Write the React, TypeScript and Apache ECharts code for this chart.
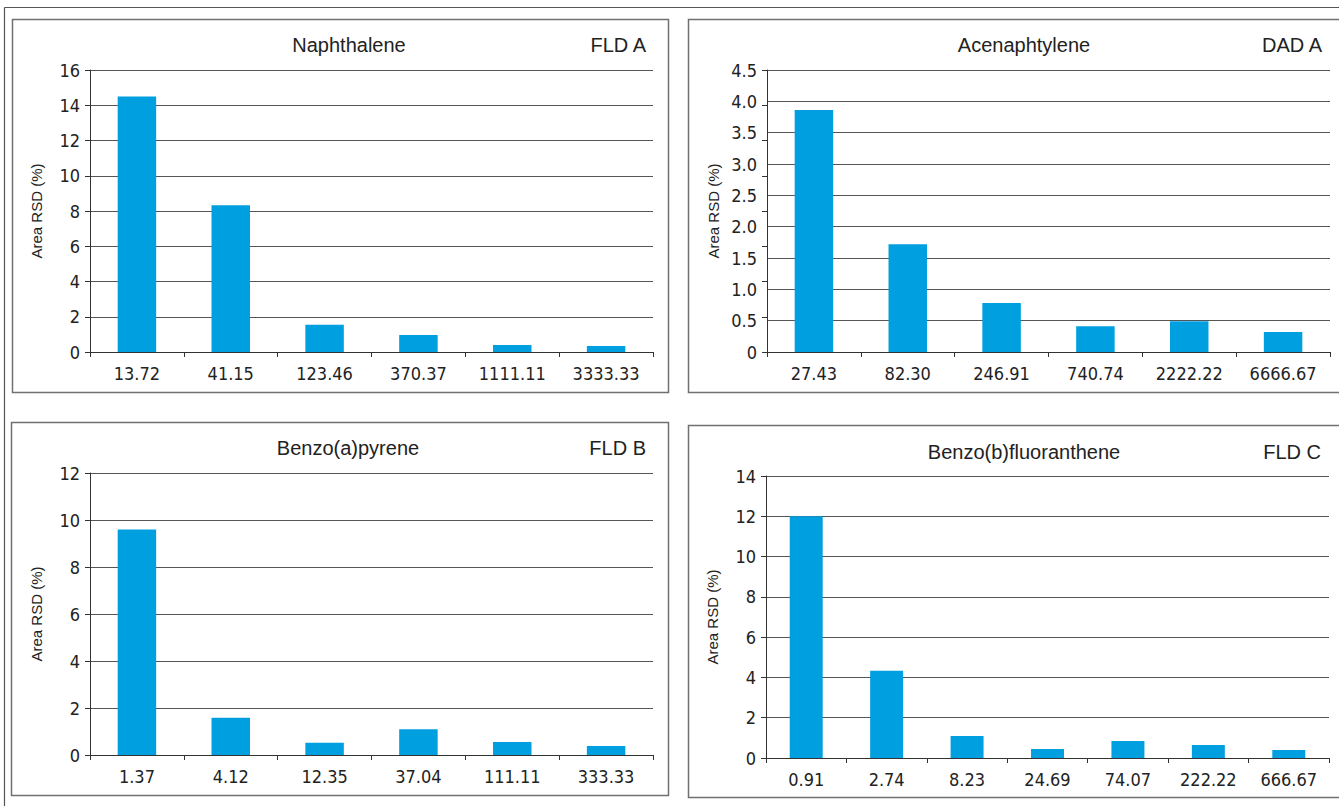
import React, { useEffect, useRef } from "react";
import * as echarts from "echarts";

// ---- Data ----
const naphCats = ["13.72", "41.15", "123.46", "370.37", "1111.11", "3333.33"];
const naphVals = [14.5, 8.33, 1.54, 0.96, 0.4, 0.34];

const acenCats = ["27.43", "82.30", "246.91", "740.74", "2222.22", "6666.67"];
const acenVals = [3.86, 1.72, 0.78, 0.41, 0.49, 0.32];

const bapCats = ["1.37", "4.12", "12.35", "37.04", "111.11", "333.33"];
const bapVals = [9.6, 1.58, 0.52, 1.1, 0.55, 0.38];

const bbfCats = ["0.91", "2.74", "8.23", "24.69", "74.07", "222.22", "666.67"];
const bbfVals = [12.0, 4.33, 1.09, 0.45, 0.84, 0.65, 0.4];

const titles = ["Naphthalene", "Acenaphtylene", "Benzo(a)pyrene", "Benzo(b)fluoranthene"];
const detectors = ["FLD A", "DAD A", "FLD B", "FLD C"];
const yMax = [16, 4.5, 12, 14];
const yStep = [2, 0.5, 2, 2];
const yLabel = "Area RSD (%)";

// ---- Layout ----
const panels = [
  { grid: { left: 90, top: 70, width: 563, height: 282 }, box: { x: 12, y: 19, w: 656, h: 373 }, tx: 349, ty: 45, dx: 646 },
  { grid: { left: 767, top: 70, width: 563, height: 282 }, box: { x: 688, y: 19, w: 700, h: 373 }, tx: 1024, ty: 45, dx: 1322 },
  { grid: { left: 90, top: 473, width: 563, height: 282 }, box: { x: 11, y: 422, w: 657, h: 373 }, tx: 348, ty: 448, dx: 646 },
  { grid: { left: 766, top: 476, width: 563, height: 282 }, box: { x: 688, y: 425, w: 700, h: 372 }, tx: 1024, ty: 452, dx: 1321 },
];

const FONT = '"Liberation Sans", Arial, sans-serif';
const NARROW = '"Liberation Sans Narrow", "DejaVu Sans Condensed", sans-serif';
const BAR = "#009fe0";
const TXT = "#222";

export default function App() {
  const ref = useRef<HTMLDivElement>(null);
  useEffect(() => {
    if (!ref.current) return;
    const chart = echarts.init(ref.current, undefined, { renderer: "svg" });
    const cats = [naphCats, acenCats, bapCats, bbfCats];
    const vals = [naphVals, acenVals, bapVals, bbfVals];

    const grids = panels.map((p) => ({ ...p.grid, containLabel: false }));
    const xAxes = panels.map((_, i) => ({
      type: "category",
      gridIndex: i,
      data: cats[i],
      boundaryGap: true,
      axisLine: { show: true, lineStyle: { color: "#333", width: 1 } },
      axisTick: { show: true, length: 5, lineStyle: { color: "#333" } },
      axisLabel: { color: TXT, fontFamily: NARROW, fontSize: 18, margin: 12 },
      splitLine: { show: false },
    }));
    const yAxes: any[] = panels.map((_, i) => ({
      type: "value",
      gridIndex: i,
      min: 0,
      max: yMax[i],
      interval: yStep[i],
      name: yLabel,
      nameLocation: "middle",
      nameGap: 46,
      nameTextStyle: { color: TXT, fontFamily: FONT, fontSize: 15 },
      axisLine: { show: true, lineStyle: { color: "#333", width: 1 } },
      axisTick: { show: i !== 1, length: 5, lineStyle: { color: "#333" } },
      axisLabel: {
        color: TXT,
        fontFamily: NARROW,
        fontSize: 18,
        margin: 10,
        formatter: (v: number) => (i === 1 ? (v === 0 ? "0" : v.toFixed(1)) : String(v)),
      },
      splitLine: { show: true, lineStyle: { color: "#555", width: 1 } },
    }));
    // extra tick-only axis for the DAD panel (ticks not aligned with gridlines)
    yAxes.push({
      type: "value",
      gridIndex: 1,
      min: 0,
      max: yMax[1],
      interval: yMax[1] / 8,
      position: "left",
      axisLine: { show: false },
      axisTick: { show: true, length: 5, lineStyle: { color: "#333" } },
      axisLabel: { show: false },
      splitLine: { show: false },
    });

    const series = panels.map((_, i) => ({
      type: "bar",
      xAxisIndex: i,
      yAxisIndex: i,
      data: vals[i],
      barWidth: "41%",
      itemStyle: { color: BAR },
      silent: true,
    }));

    const graphics: any[] = [
      { type: "line", shape: { x1: 4.5, y1: 7.5, x2: 1339, y2: 7.5 }, style: { stroke: "#555", lineWidth: 1.2 } },
      { type: "line", shape: { x1: 4.5, y1: 7.5, x2: 4.5, y2: 806 }, style: { stroke: "#555", lineWidth: 1.2 } },
    ];
    panels.forEach((p, i) => {
      graphics.push({
        type: "rect",
        shape: { x: p.box.x + 0.5, y: p.box.y + 0.5, width: p.box.w, height: p.box.h },
        style: { fill: "none", stroke: "#707070", lineWidth: 1.5 },
        z: -1,
      });
      graphics.push({
        type: "text",
        x: p.tx,
        y: p.ty,
        style: { text: titles[i], fill: TXT, font: `20px ${FONT}`, textAlign: "center", textVerticalAlign: "middle" },
      });
      graphics.push({
        type: "text",
        x: p.dx,
        y: p.ty,
        style: { text: detectors[i], fill: TXT, font: `20px ${FONT}`, textAlign: "right", textVerticalAlign: "middle" },
      });
    });

    chart.setOption({
      animation: false,
      backgroundColor: "#ffffff",
      grid: grids,
      xAxis: xAxes,
      yAxis: yAxes,
      series,
      graphic: graphics,
    });
    return () => chart.dispose();
  }, []);
  return (
    <div
      ref={ref}
      style={{ position: "fixed", left: 0, top: 0, width: 1339, height: 806, background: "#fff" }}
    />
  );
}
